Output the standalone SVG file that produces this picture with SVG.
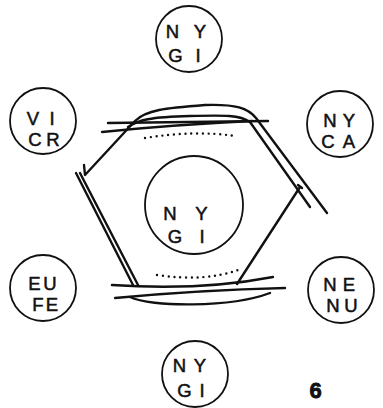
<svg xmlns="http://www.w3.org/2000/svg" width="383" height="408" viewBox="0 0 383 408">
<style>
.c{fill:none;stroke:#111;stroke-width:1.8}
.t{font-family:"Liberation Sans",Arial,sans-serif;font-size:18.5px;fill:#111;stroke:#111;stroke-width:0.5;text-anchor:middle}
.l{fill:none;stroke:#111;stroke-width:2.4;stroke-linecap:round;stroke-linejoin:round}
.d{fill:none;stroke:#111;stroke-width:2.4;stroke-linecap:round;stroke-dasharray:0 5.8}
</style>
<rect width="383" height="408" fill="#fff"/>
<g id="connectors">
<path class="l" d="M84,165 L85,175 L135,121 C146,110 165,108 205,105 C236,104 248,108 256,118 L327,213"/>
<path class="l" d="M128,127 C138,120 150,117 190,116 C225,115 240,115 250,122 L310,207"/>
<path class="l" d="M108,123 L268,121"/>
<path class="l" d="M102,132 C160,126 210,123 252,121"/>
<path class="l" d="M76,173 L133,285"/>
<path class="l" d="M80,173 L138,285"/>
<path class="l" d="M298,185 L302,188 M300,187 L237,284"/>
<path class="l" d="M112,285 Q200,291 273,277"/>
<path class="l" d="M115,298 Q200,290 285,288"/>
<path class="l" d="M130,297 C150,307 230,308 270,293"/>
<path class="d" d="M145,138 Q195,130 235,136"/>
<path class="d" d="M157,275 Q205,282 238,270"/>
</g>
<g id="n-top"><circle class="c" cx="189" cy="39" r="33"/><text class="t" x="172.5 200" y="38">NY</text><text class="t" x="175.5 198" y="62">GI</text></g>
<g id="n-vicr"><circle class="c" cx="43" cy="121" r="33"/><text class="t" x="33 52" y="125">VI</text><text class="t" x="35 53" y="146">CR</text></g>
<g id="n-nyca"><circle class="c" cx="340" cy="124" r="33"/><text class="t" x="330 349" y="127">NY</text><text class="t" x="328 349" y="148">CA</text></g>
<g id="n-center"><circle class="c" cx="194" cy="205" r="49"/><text class="t" x="170 201.5" y="220">NY</text><text class="t" x="175 202" y="243">GI</text></g>
<g id="n-eufe"><circle class="c" cx="43" cy="288" r="33"/><text class="t" x="34.5 50" y="290">EU</text><text class="t" x="38 52" y="311">FE</text></g>
<g id="n-nenu"><circle class="c" cx="341" cy="290" r="33"/><text class="t" x="330 349" y="291">NE</text><text class="t" x="333 351" y="312">NU</text></g>
<g id="n-bottom"><circle class="c" cx="195" cy="374" r="33"/><text class="t" x="179.5 200" y="372">NY</text><text class="t" x="184.5 202" y="397">GI</text></g>
<text x="315.5" y="398" font-family="Liberation Sans,Arial,sans-serif" font-size="22" font-weight="bold" text-anchor="middle" fill="#111" stroke="#111" stroke-width="0.8">6</text>
</svg>
